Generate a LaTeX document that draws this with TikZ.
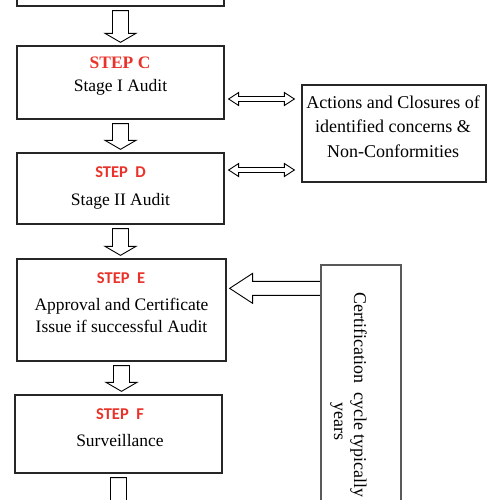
\documentclass[tikz,border=0pt]{standalone}
\usepackage{fontspec}
\setmainfont{Liberation Serif}
\newfontfamily\tagfont{Carlito}
\usetikzlibrary{calc}
\definecolor{stepred}{RGB}{233,51,42}

\tikzset{
  stepbox/.style={draw=black!85, line width=1.3pt, inner sep=0pt, minimum width=207pt},
  blockarrow/.style={draw=black, line width=0.9pt, fill=white, line join=miter},
  steptag/.style={anchor=base, text=stepred, font=\tagfont\bfseries\fontsize{16.5}{20}\selectfont},
  steptext/.style={anchor=base, align=center, font=\fontsize{17.5}{22}\selectfont},
  certtext/.style={rotate=-90, anchor=base west, inner sep=0pt, font=\fontsize{18}{22}\selectfont}
}

\newcommand{\downblock}[2]{%
  \draw[blockarrow] let \p1=(#1), \p2=(#2) in
    (\x1-8,\y1-4) -- (\x1+8,\y1-4) -- (\x1+8,\y2+12) -- (\x1+15.5,\y2+12)
    -- (\x1,\y2+3) -- (\x1-15.5,\y2+12) -- (\x1-8,\y2+12) -- cycle;}

\newcommand{\twoway}[2]{%
  \draw[blockarrow] let \p1=(#1), \p2=(#2) in
    (\x1,\y1) -- (\x1+10,\y1+6.5) -- (\x1+10,\y1+2.5) -- (\x2-17,\y1+2.5)
    -- (\x2-17,\y1+6.5) -- (\x2-7,\y1) -- (\x2-17,\y1-6.5) -- (\x2-17,\y1-2.5)
    -- (\x1+10,\y1-2.5) -- (\x1+10,\y1-6.5) -- cycle;}

\begin{document}
\begin{tikzpicture}[x=1pt,y=1pt]
\useasboundingbox (0,0) rectangle (500,-500);
\clip (0,0) rectangle (500,-500);

% boxes of the steps
\node[stepbox, minimum height=72pt] (stepb) at (120.5,30) {};
\node[stepbox, minimum height=73pt] (stepc) at (120.5,-82.5) {};
\node[stepbox, minimum height=71pt] (stepd) at (120.5,-188.5) {};
\node[stepbox, minimum height=102pt, minimum width=209pt] (stepe) at (121.5,-310) {};
\node[stepbox, minimum height=78pt] (stepf) at (118.5,-434) {};
\coordinate (nextstep) at (118.5,-540);

% side boxes
\node[stepbox, minimum height=97pt, minimum width=184pt] (actions) at (394,-133.5) {};
\node[stepbox, draw=black!65, minimum height=300pt, minimum width=80pt] (cert) at (361,-415) {};

% texts
\node[steptag, font=\bfseries\fontsize{17.5}{20}\selectfont] (tagc) at (120,-68.5) {STEP C};
\node[steptext] (textc) at (120.5,-92) {Stage I Audit};
\node[steptag] (tagd) at (120.5,-177) {STEP\ \ D};
\node[steptext] (textd) at (120.5,-205) {Stage II Audit};
\node[steptag] (tage) at (121,-283) {STEP\ \ E};
\node[steptext] (texte) at (121.5,-332) {Approval and Certificate\\Issue if successful Audit};
\node[steptag] (tagf) at (120,-419) {STEP\ \ F};
\node[steptext] (textf) at (120,-446) {Surveillance};
\node[steptext, font=\fontsize{18}{24.7}\selectfont] (actionstext) at (393,-157.5)
  {Actions and Closures of\\identified concerns \&\\Non-Conformities};
\node[certtext] (certline) at (354,-292) {Certification\ \ cycle typically};
\node[certtext] (certyears) at (334,-402) {years};

% arrows
\downblock{stepb.south}{stepc.north}
\downblock{stepc.south}{stepd.north}
\downblock{stepd.south}{stepe.north}
\downblock{stepe.south}{stepf.north}
\downblock{stepf.south}{nextstep}
\twoway{[shift={(4,-16.5)}]stepc.east}{actions.west}
\twoway{[shift={(4,18.5)}]stepd.east}{actions.west}
\draw[blockarrow] let \p1=([yshift=-24pt]cert.north west), \p2=(stepe.east) in
  (\x1-0.6,\y1+7) -- (\x2+26,\y1+7) -- (\x2+26,\y1+15) -- (\x2+3,\y1)
  -- (\x2+26,\y1-15) -- (\x2+26,\y1-7) -- (\x1-0.6,\y1-7);
\end{tikzpicture}
\end{document}
